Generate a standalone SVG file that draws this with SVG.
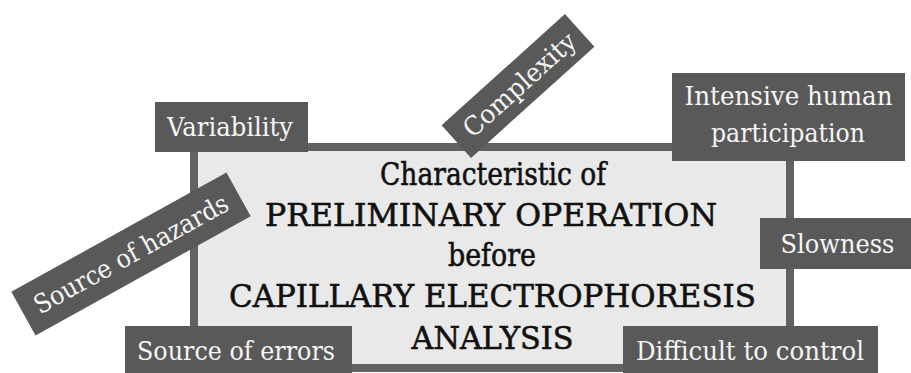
<svg xmlns="http://www.w3.org/2000/svg" width="911" height="373" viewBox="0 0 911 373">
<style>
.lbl{fill:#595959}
.lt{fill:#f6f6f6;font-size:26px;text-anchor:middle;font-family:'DejaVu Serif','Liberation Serif',serif}
.ct{fill:#111111;stroke:#111111;stroke-width:0.6;font-size:32px;text-anchor:middle;font-family:'DejaVu Serif','Liberation Serif',serif}
</style>
<rect width="911" height="373" fill="#ffffff"/>
<g id="center">
<rect x="194" y="147" width="596" height="221" fill="#e9e9e9" stroke="#626262" stroke-width="8"/>
<text class="ct" x="493" y="185" textLength="226" lengthAdjust="spacingAndGlyphs">Characteristic of</text>
<text class="ct" x="491" y="226" textLength="452" lengthAdjust="spacingAndGlyphs">PRELIMINARY OPERATION</text>
<text class="ct" x="492" y="266" textLength="88" lengthAdjust="spacingAndGlyphs">before</text>
<text class="ct" x="492.5" y="307" textLength="527" lengthAdjust="spacingAndGlyphs">CAPILLARY ELECTROPHORESIS</text>
<text class="ct" x="492.5" y="349" textLength="162" lengthAdjust="spacingAndGlyphs">ANALYSIS</text>
</g>
<g id="variability">
<rect class="lbl" x="155" y="102" width="153" height="50"/>
<text class="lt" x="230" y="136" textLength="126" lengthAdjust="spacingAndGlyphs">Variability</text>
</g>
<g id="complexity" transform="translate(518,86) rotate(-42)">
<rect class="lbl" x="-83" y="-22" width="166" height="44"/>
<text class="lt" x="2" y="9" textLength="142" lengthAdjust="spacingAndGlyphs">Complexity</text>
</g>
<g id="intensive">
<rect class="lbl" x="672" y="73" width="233" height="88"/>
<text class="lt" x="788.5" y="105" textLength="208" lengthAdjust="spacingAndGlyphs">Intensive human</text>
<text class="lt" x="788" y="142" textLength="154" lengthAdjust="spacingAndGlyphs">participation</text>
</g>
<g id="hazards" transform="translate(131,254) rotate(-29)">
<rect class="lbl" x="-123" y="-25" width="246" height="50"/>
<text class="lt" x="0" y="9" textLength="218" lengthAdjust="spacingAndGlyphs">Source of hazards</text>
</g>
<g id="slowness">
<rect class="lbl" x="760" y="218" width="151" height="51"/>
<text class="lt" x="837.5" y="253" textLength="114" lengthAdjust="spacingAndGlyphs">Slowness</text>
</g>
<g id="errors">
<rect class="lbl" x="125" y="326" width="227" height="47"/>
<text class="lt" x="236" y="360" textLength="198" lengthAdjust="spacingAndGlyphs">Source of errors</text>
</g>
<g id="difficult">
<rect class="lbl" x="623" y="326" width="255" height="47"/>
<text class="lt" x="750" y="360" textLength="228" lengthAdjust="spacingAndGlyphs">Difficult to control</text>
</g>
</svg>
